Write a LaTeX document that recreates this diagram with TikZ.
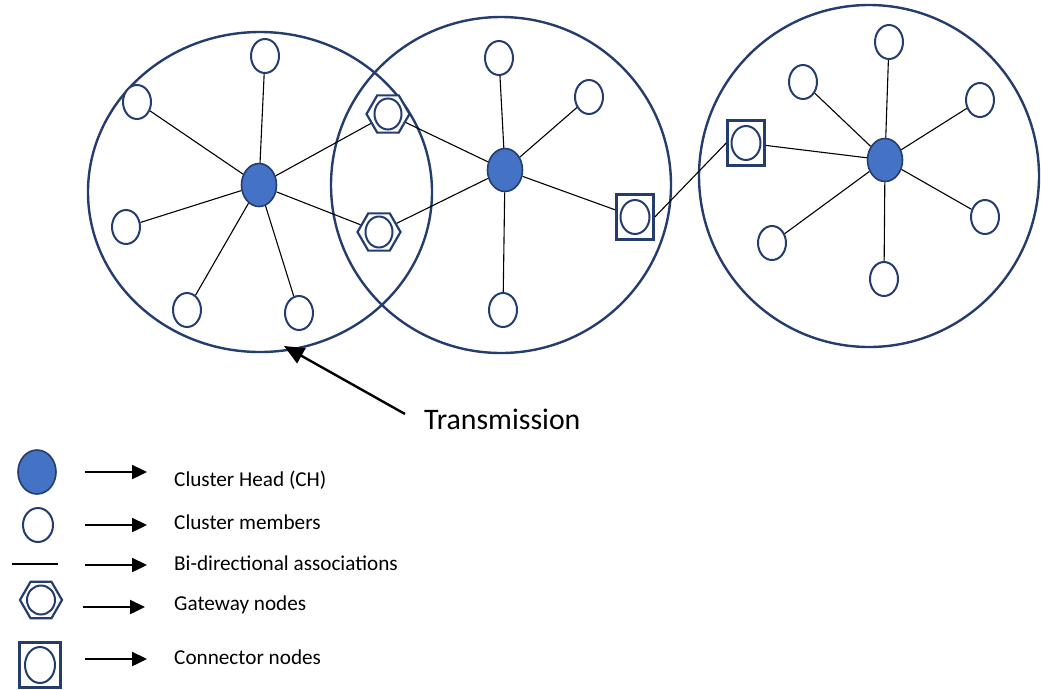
\documentclass[tikz,border=0pt]{standalone}
\usepackage{fontspec}
\setmainfont{Carlito}
\usetikzlibrary{shapes.geometric,arrows.meta}
\definecolor{nb}{RGB}{36,60,110}
\definecolor{chb}{RGB}{68,114,196}
\begin{document}
\begin{tikzpicture}[x=1pt,y=-1pt,
 big/.style={ellipse,draw=nb,line width=2.4pt,inner sep=0pt},
 ch/.style={ellipse,draw=nb,fill=chb,line width=1.6pt,minimum width=35pt,minimum height=43pt,inner sep=0pt},
 mem/.style={ellipse,draw=nb,fill=white,line width=2pt,minimum width=28pt,minimum height=34pt,inner sep=0pt},
 gw/.style={regular polygon,regular polygon sides=6,draw=nb,fill=white,line width=2.2pt,minimum size=43pt,inner sep=0pt},
 gwin/.style={ellipse,draw=nb,line width=2pt,minimum width=27pt,minimum height=31pt,inner sep=0pt},
 con/.style={rectangle,draw=nb,fill=white,line width=2.6pt,minimum width=37pt,minimum height=45pt,inner sep=0pt},
 conin/.style={ellipse,draw=nb,line width=2pt,minimum width=29pt,minimum height=34pt,inner sep=0pt},
 link/.style={black,line width=1.1pt},
 arr/.style={black,line width=2.4pt,-{Triangle[length=15pt,width=14pt]}},
 tarr/.style={black,line width=2.4pt,-{Triangle[length=20pt,width=17pt]}},
 leg/.style={anchor=base west,inner sep=0pt,font=\fontsize{21.2}{25}\selectfont}
]
\useasboundingbox (0,0) rectangle (1041,689);
% big circles
\node[big,minimum width=344pt,minimum height=320pt] (c1) at (260,192) {};
\node[big,minimum width=340pt,minimum height=336pt] (c2) at (501,185) {};
\node[big,minimum width=340pt,minimum height=342pt] (c3) at (869,176) {};
% cluster heads
\node[ch] (h1) at (259,185) {};
\node[ch] (h2) at (505,170) {};
\node[ch] (h3) at (885,160) {};
% members
\node[mem] (m11) at (265,56) {};
\node[mem] (m12) at (137,102) {};
\node[mem] (m13) at (126,227) {};
\node[mem] (m14) at (187,310) {};
\node[mem] (m15) at (299,313) {};
\node[mem] (m21) at (499,58) {};
\node[mem] (m22) at (589,97) {};
\node[mem] (m23) at (503,310) {};
\node[mem] (m31) at (889,42) {};
\node[mem] (m32) at (803,82) {};
\node[mem] (m33) at (980,100) {};
\node[mem] (m34) at (985,217) {};
\node[mem] (m35) at (772,243) {};
\node[mem] (m36) at (884,279) {};
% gateways
\node[gw] (g1) at (388,114) {};
\node[gwin] (g1c) at (388,114) {};
\node[gw] (g2) at (379,232) {};
\node[gwin] (g2c) at (379,232) {};
% connectors
\node[con] (k1) at (635,217) {};
\node[conin] (k1c) at (635,217) {};
\node[con] (k2) at (746,143) {};
\node[conin] (k2c) at (746,143) {};
% links
\foreach \m in {m11,m12,m13,m14,m15,g1,g2} \draw[link] (h1) -- (\m);
\foreach \m in {m21,m22,m23,g1,g2,k1} \draw[link] (h2) -- (\m);
\foreach \m in {m31,m32,m33,m34,m35,m36,k2} \draw[link] (h3) -- (\m);
\draw[link] (k1.east) -- (k2.west);
% transmission
\node[anchor=base west,font=\fontsize{29.8}{35}\selectfont,inner sep=0pt] (tr) at (424,429) {Transmission};
\coordinate (tt) at (405,414);
\coordinate (th) at (284,346);
\draw[tarr] (tt) -- (th);
% legend
\node[ch,minimum width=38pt,minimum height=44pt] (l1) at (37,472) {};
\node[mem,minimum width=30pt,minimum height=34pt] (l2) at (38,525) {};
\coordinate (l3a) at (12,564); \coordinate (l3b) at (58,564);
\draw[link] (l3a) -- (l3b);
\node[gw,minimum size=42pt] (l4) at (41,600) {};
\node[gwin,minimum width=28pt,minimum height=29pt] (l4c) at (41,600) {};
\node[con,minimum width=41pt,minimum height=45pt] (l5) at (40,665) {};
\node[conin,minimum width=30pt,minimum height=36pt] (l5c) at (40,665) {};
\coordinate (a1a) at (85,472); \coordinate (a1b) at (147,472);
\coordinate (a2a) at (85,525); \coordinate (a2b) at (147,525);
\coordinate (a3a) at (85,565); \coordinate (a3b) at (147,565);
\coordinate (a4a) at (83,607); \coordinate (a4b) at (145,607);
\coordinate (a5a) at (85,659); \coordinate (a5b) at (147,659);
\draw[arr] (a1a) -- (a1b);
\draw[arr] (a2a) -- (a2b);
\draw[arr] (a3a) -- (a3b);
\draw[arr] (a4a) -- (a4b);
\draw[arr] (a5a) -- (a5b);
\node[leg] (t1) at (174,486) {Cluster Head (CH)};
\node[leg] (t2) at (174,529) {Cluster members};
\node[leg] (t3) at (174,570) {Bi-directional associations};
\node[leg] (t4) at (174,610) {Gateway nodes};
\node[leg] (t5) at (174,664) {Connector nodes};
\end{tikzpicture}
\end{document}
